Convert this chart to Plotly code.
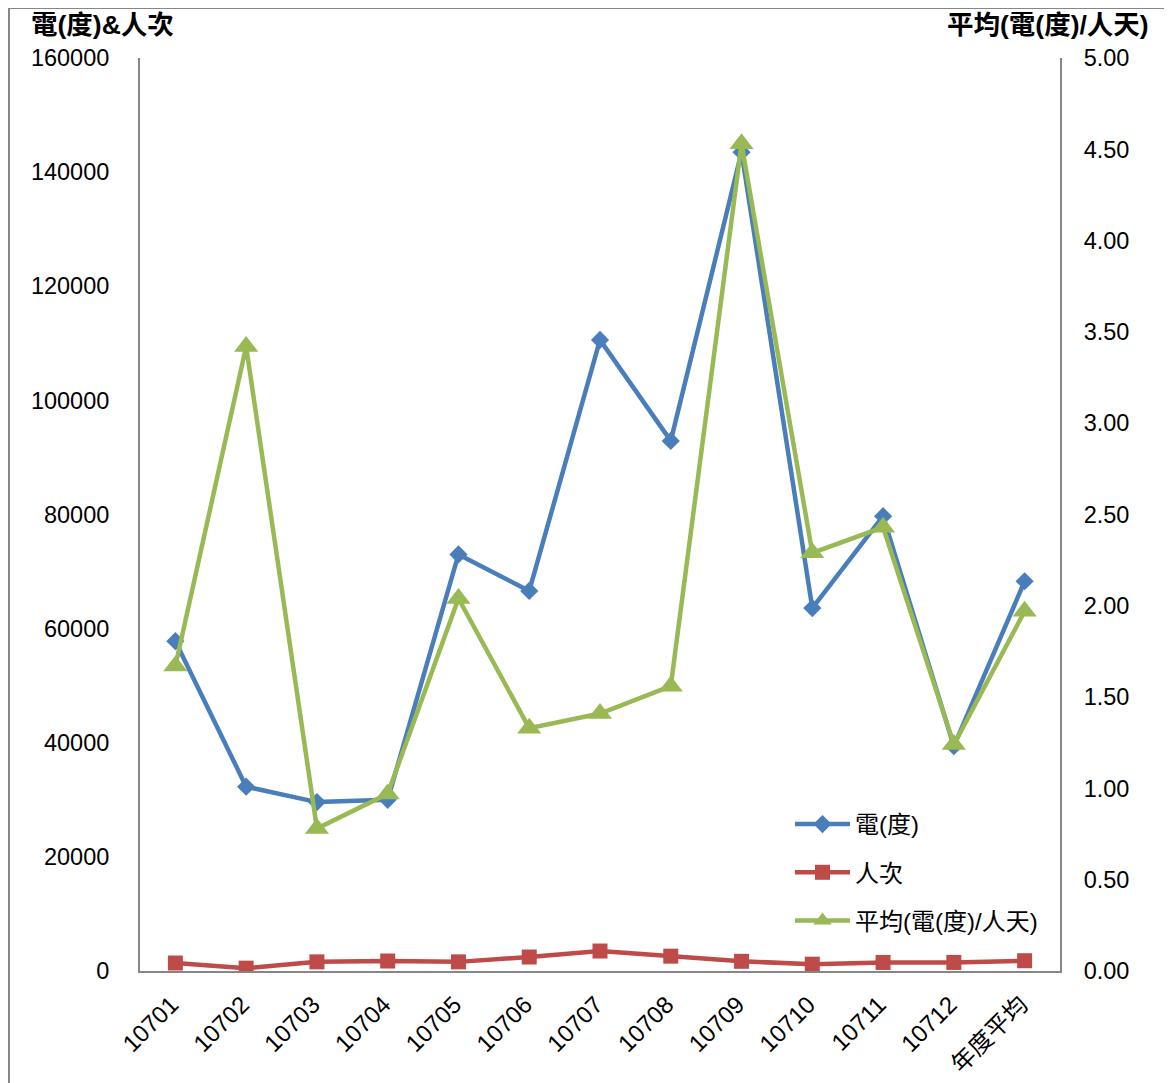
import plotly.graph_objects as go

categories = ["10701", "10702", "10703", "10704", "10705", "10706", "10707",
              "10708", "10709", "10710", "10711", "10712", "年度平均"]
electricity = [57800, 32300, 29600, 30000, 73000, 66600, 110600,
               92900, 143500, 63600, 79700, 39400, 68300]
visits = [1400, 500, 1600, 1750, 1600, 2450, 3500,
          2600, 1700, 1200, 1500, 1500, 1800]
avg_per_person = [1.67, 3.42, 0.78, 0.97, 2.04, 1.33, 1.41,
                  1.56, 4.53, 2.29, 2.43, 1.24, 1.97]

left_ticks = [0, 20000, 40000, 60000, 80000, 100000, 120000, 140000, 160000]
right_ticks = [0, 0.5, 1.0, 1.5, 2.0, 2.5, 3.0, 3.5, 4.0, 4.5, 5.0]

FONT = "Liberation Sans, Noto Sans CJK TC, sans-serif"
BLUE = "#4A7EBB"
RED = "#BE4B48"
GREEN = "#98B954"
AXIS = "#868686"

fig = go.Figure()
fig.add_trace(go.Scatter(x=categories, y=electricity, name="電(度)", mode="lines+markers",
                         legendgroup="a",
                         line=dict(color=BLUE, width=4.5),
                         marker=dict(symbol="diamond", size=14, color=BLUE)))
fig.add_trace(go.Scatter(x=categories, y=visits, name="人次", mode="lines+markers",
                         legendgroup="b",
                         line=dict(color=RED, width=4.5),
                         marker=dict(symbol="square", size=15, color=RED)))
fig.add_trace(go.Scatter(x=categories, y=avg_per_person, name="平均(電(度)/人天)",
                         mode="lines+markers", yaxis="y2", legendgroup="c",
                         line=dict(color=GREEN, width=4.5),
                         marker=dict(symbol="triangle-up", size=21, color=GREEN)))

fig.update_layout(
    width=1164, height=1075,
    margin=dict(l=132, r=112, t=50, b=112, autoexpand=False),
    plot_bgcolor="white", paper_bgcolor="white",
    font=dict(family=FONT, size=23, color="black"),
    showlegend=True,
    legend=dict(x=(790 - 140) / 920, y=(971 - 802) / 913, xanchor="left", yanchor="top",
                bgcolor="rgba(0,0,0,0)", font=dict(size=24, family=FONT),
                itemwidth=55, traceorder="grouped", tracegroupgap=14),
    xaxis=dict(type="category", range=[-0.5, 12.5], showline=True, linecolor=AXIS,
               linewidth=2, showgrid=False, zeroline=False, ticks="", automargin=False,
               tickangle=-45, tickfont=dict(size=24), ticklabelstandoff=8,
               ticklabelshift=-4),
    yaxis=dict(range=[0, 160000], tickvals=left_ticks, tickformat="d", showline=True,
               linecolor=AXIS, linewidth=2, showgrid=False, zeroline=False, ticks="",
               automargin=False, tickfont=dict(size=23.5), ticklabelstandoff=24),
    yaxis2=dict(range=[0, 5], tickvals=right_ticks, tickformat=".2f", overlaying="y",
                side="right", showline=True, linecolor=AXIS, linewidth=2,
                showgrid=False, zeroline=False, ticks="", automargin=False,
                tickfont=dict(size=23.5), ticklabelstandoff=17),
    annotations=[
        dict(text="<b>電(度)&人次</b>", xref="paper", yref="paper",
             x=(29 - 140) / 920, y=(971 - 25) / 913, xanchor="left", yanchor="middle",
             showarrow=False, font=dict(size=26.5, family=FONT)),
        dict(text="<b>平均(電(度)/人天)</b>", xref="paper", yref="paper",
             x=(1151 - 140) / 920, y=(971 - 25) / 913, xanchor="right", yanchor="middle",
             showarrow=False, font=dict(size=26.5, family=FONT)),
    ],
    shapes=[
        dict(type="rect", xref="paper", yref="paper",
             x0=(9 - 140) / 920, x1=2.0, y0=-1.0, y1=(971 - 8) / 913,
             line=dict(color=AXIS, width=2), fillcolor="rgba(0,0,0,0)", layer="below"),
    ],
)

fig.write_html("out.html")
